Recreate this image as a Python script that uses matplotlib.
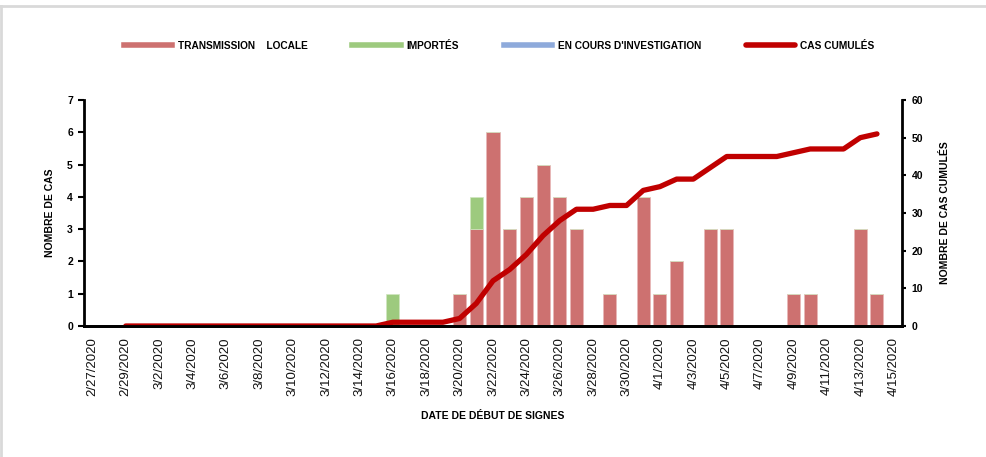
import numpy as np
import pandas as pd
import matplotlib
matplotlib.use('Agg')
import matplotlib.pyplot as plt
from matplotlib.lines import Line2D

plt.rcParams['font.family'] = ['Liberation Sans', 'DejaVu Sans']

# Daily cases by onset date, 2/27/2020 to 4/15/2020

dates = pd.date_range('2020-02-27', '2020-04-15', freq='D')
dateLabels = [f'{d.month}/{d.day}/{d.year}' for d in dates]

local = [0, 0, 0, 0, 0, 0, 0, 0, 0, 0, 0, 0, 0, 0, 0, 0, 0, 0, 0, 0,
         0, 0, 1, 3, 6, 3, 4, 5, 4, 3, 0, 1, 0, 4, 1, 2, 0, 3, 3, 0,
         0, 0, 1, 1, 0, 0, 3, 1, 0]
imported = [0, 0, 0, 0, 0, 0, 0, 0, 0, 0, 0, 0, 0, 0, 0, 0, 0, 0, 1, 0,
            0, 0, 0, 1, 0, 0, 0, 0, 0, 0, 0, 0, 0, 0, 0, 0, 0, 0, 0, 0,
            0, 0, 0, 0, 0, 0, 0, 0, 0]
investigation = [0] * 49
nan = np.nan
cumulative = [nan, nan, 0, 0, 0, 0, 0, 0, 0, 0, 0, 0, 0, 0, 0, 0, 0, 0, 1, 1,
              1, 1, 2, 6, 12, 15, 19, 24, 28, 31, 31, 32, 32, 36, 37, 39, 39, 42, 45, 45,
              45, 45, 46, 47, 47, 47, 50, 51, nan]

colLocal = '#cd7170'
colImported = '#9dca7e'
colInvest = '#8eaadb'
colCum = '#c00000'

fig = plt.figure(figsize=(9.87, 4.57), dpi=100)
ax = fig.add_axes([84 / 987, 1 - 326 / 457, 818 / 987, 226 / 457])
x = np.arange(len(dates))

ax.bar(x, local, width=0.78, color=colLocal, edgecolor='#e8b8b8', linewidth=0.5)
ax.bar(x, imported, width=0.78, bottom=local, color=colImported, edgecolor='#d0e6c0', linewidth=0.5)
ax.bar(x, investigation, width=0.78, bottom=np.add(local, imported), color=colInvest)

ax.set_xlim(-0.5, len(dates) - 0.5)
ax.set_ylim(0, 7)
ax.set_yticks(range(0, 8))
ax.set_xticks(x[::2])
ax.set_xticklabels(dateLabels[::2], rotation=90, fontsize=9.5, va='top', ha='center', color='#111111')
ax.tick_params(axis='x', length=0, pad=8)
ax.tick_params(axis='y', direction='out', length=4, width=1.5, labelsize=7.5, pad=4)
for t in ax.get_yticklabels():
    t.set_fontweight('bold')
ax.set_xlabel('DATE DE DÉBUT DE SIGNES', fontsize=7.5, fontweight='bold', labelpad=11)
ax.set_ylabel('NOMBRE DE CAS', fontsize=7.5, fontweight='bold', labelpad=9)
ax.spines['top'].set_visible(False)
ax.spines['right'].set_visible(False)
ax.spines['left'].set_linewidth(2)
ax.spines['bottom'].set_linewidth(2)

ax2 = ax.twinx()
ax2.plot(x, cumulative, color=colCum, linewidth=3.8, solid_capstyle='round', solid_joinstyle='round')
ax2.set_ylim(0, 60)
ax2.set_yticks(range(0, 61, 10))
ax2.tick_params(axis='y', direction='out', length=3, width=1.5, labelsize=7.5, pad=4)
for t in ax2.get_yticklabels():
    t.set_fontweight('bold')
ax2.set_ylabel('NOMBRE DE CAS CUMULÉS', fontsize=7.5, fontweight='bold', labelpad=12)
ax2.spines['top'].set_visible(False)
ax2.spines['left'].set_visible(False)
ax2.spines['right'].set_linewidth(2)
ax2.spines['bottom'].set_linewidth(2)

# Legend at the top, line style handles like the original
handles = [Line2D([], [], color=colLocal, linewidth=4),
           Line2D([], [], color=colImported, linewidth=4),
           Line2D([], [], color=colInvest, linewidth=4),
           Line2D([], [], color=colCum, linewidth=4, solid_capstyle='round')]
labels = ['TRANSMISSION    LOCALE', 'IMPORTÉS', "EN COURS D'INVESTIGATION", 'CAS CUMULÉS']
fig.legend(handles, labels, loc='center', bbox_to_anchor=(499 / 987, 1 - 46 / 457), ncol=4,
           frameon=False, prop={'size': 7.3, 'weight': 'bold'}, handlelength=4.8,
           handletextpad=0.55, columnspacing=4.4)

# Light grey frame at top and left, as in the screenshot
fig.add_artist(Line2D([0, 1], [1 - 6 / 457, 1 - 6 / 457], color='#d9d9d9', linewidth=2))
fig.add_artist(Line2D([1 / 987, 1 / 987], [0, 1 - 6 / 457], color='#d9d9d9', linewidth=2))

plt.savefig('out.png', dpi=100)
